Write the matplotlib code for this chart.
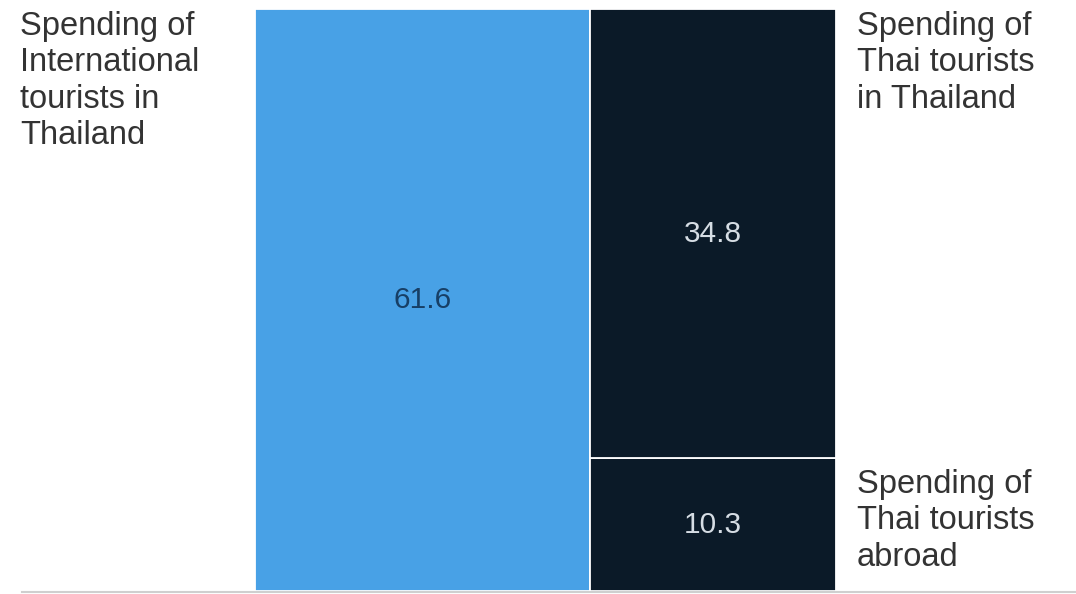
import matplotlib
matplotlib.use("Agg")
import matplotlib.pyplot as plt
from matplotlib.lines import Line2D

plt.rcParams['font.family'] = ['Liberation Sans', 'DejaVu Sans']

# spending, billion; one column per origin of spend
columns = ['International', 'Thai']
column_totals = [61.6, 34.8 + 10.3]
# segments per column, bottom to top
segments = {
    'International': [61.6],
    'Thai': [10.3, 34.8],
}
labels = {
    'International': ['Spending of\nInternational\ntourists in\nThailand'],
    'Thai': ['Spending of\nThai tourists\nabroad', 'Spending of\nThai tourists\nin Thailand'],
}
colors = {'International': '#48a1e6', 'Thai': '#0b1a28'}
value_colors = {'International': '#173f66', 'Thai': '#d6dde4'}

fig = plt.figure(figsize=(10.76, 5.94), dpi=100)
ax = fig.add_axes([255 / 1076, 3 / 594, 581 / 1076, 582 / 594])

left = 0.0
for col, total in zip(columns, column_totals):
    bottom = 0.0
    for val in segments[col]:
        share = val / total
        ax.bar(left, share, width=total, bottom=bottom, align='edge',
               color=colors[col], edgecolor='white', linewidth=1.3)
        ax.text(left + total / 2, bottom + share / 2, '%.1f' % val,
                ha='center', va='center', fontsize=21.5, color=value_colors[col])
        bottom += share
    left += total

ax.set_xlim(0, sum(column_totals))
ax.set_ylim(0, 1)
ax.axis('off')

# category labels beside the columns
txt = dict(fontsize=23.5, color='#333333', linespacing=1.22, va='top', ha='left')
fig.text(20 / 1076, 1 - 11 / 594, labels['International'][0], **txt)
fig.text(857 / 1076, 1 - 11 / 594, labels['Thai'][1], **txt)
fig.text(857 / 1076, 1 - 469 / 594, labels['Thai'][0], **txt)

# baseline
fig.add_artist(Line2D([22 / 1076, 1.0], [1 - 592 / 594] * 2, color='#cfcfcf', linewidth=1.5))

fig.savefig('out.png', dpi=100, facecolor='white')
